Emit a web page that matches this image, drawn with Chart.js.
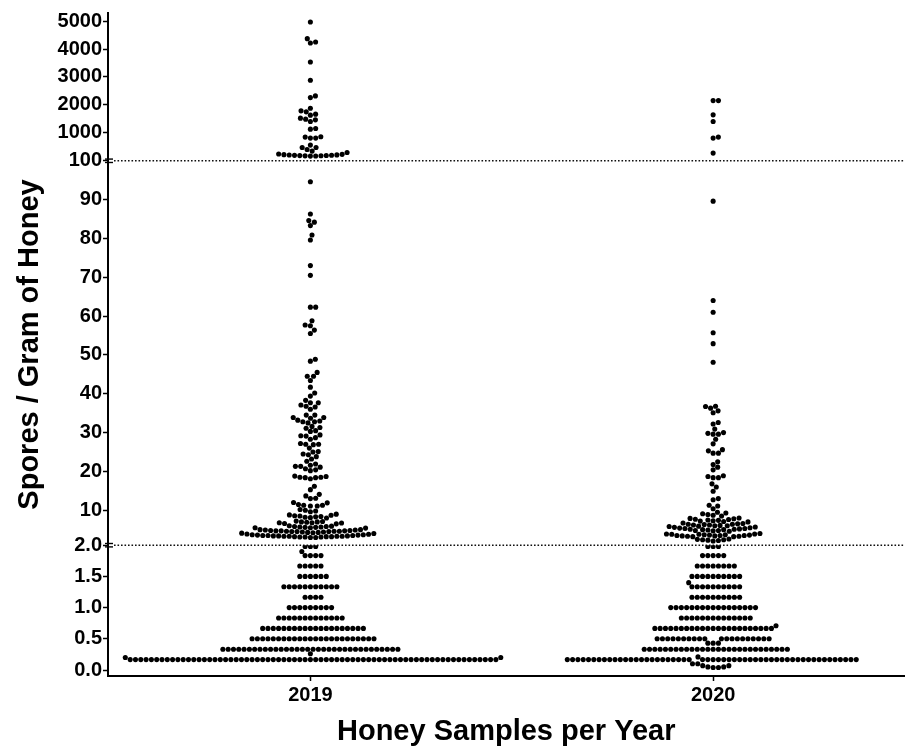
<!DOCTYPE html>
<html>
<head>
<meta charset="utf-8">
<script src="https://cdn.jsdelivr.net/npm/chart.js@4.4.1/dist/chart.umd.min.js"></script>
<style>
  html, body { margin: 0; padding: 0; background: #fff; }
</style>
</head>
<body>
<canvas id="sporeChart" width="907" height="749"></canvas>
<script>
const years = ['2019', '2020'];

// 0 - 2 band: values come in steps, so keep level + how many dots sit on it
const lowLevels      = [0.04, 0.05, 0.07, 0.1, 0.167, 0.2, 0.21, 0.26, 0.333, 0.43, 0.5, 0.667, 0.71, 0.833, 1.0, 1.167, 1.333, 1.4, 1.5, 1.667, 1.833, 1.9, 1.98];
const lowCounts2019  = [0,    0,    0,    0,   70,    2,   0,    1,    34,    0,    24,  20,    0,    13,    9,   4,     11,    0,   6,   5,     4,     1,   3];
const lowCounts2020  = [2,    2,    2,    2,   54,    0,   1,    0,    28,    3,    20,  23,    1,    14,    17,  10,    10,    1,   10,  8,     5,     0,   3];

// 2 - 100 band
const mid2019 = [
  3.0, 3.0, 3.1, 3.1, 3.1, 3.2, 3.2, 3.2, 3.3, 3.3, 3.3, 3.3, 3.4, 3.4, 3.4, 3.5, 3.5, 3.5, 3.6, 3.6, 3.7, 3.7, 3.8, 3.9, 4.0, 4.1, 4.2, 4.3, 4.3,
  4.4, 4.4, 4.5, 4.5, 4.5, 4.6, 4.6, 4.6, 4.7, 4.7, 4.7, 4.8, 4.8, 4.9, 4.9, 5.0, 5.0,
  5.4, 5.5, 5.5, 5.6, 5.6, 5.7, 5.7, 5.8, 5.8, 5.9, 6.0,
  6.5, 6.6, 6.7, 6.8, 6.8, 6.9, 7.0, 7.0, 7.1, 7.2,
  8.0, 8.1, 8.2, 8.3, 8.4, 8.5, 8.6, 8.7, 8.8, 9.0,
  9.6, 9.8, 10.0, 10.2,
  11.1, 11.1, 11.3, 11.3, 11.5, 11.9, 12.0,
  13.0, 13.1, 13.7, 14.1, 15.3, 16.2,
  18.1, 18.4, 18.4, 18.5, 18.5, 18.7, 18.8, 20.2, 20.4,
  20.7, 21.1, 21.3, 21.3, 21.6, 21.9, 22.6, 23.2, 23.8,
  24.3, 24.5, 25.0, 25.1, 26.0, 26.9, 27.0, 27.0, 27.2,
  28.3, 28.7, 29.1, 29.2, 29.4, 30.3, 30.5, 31.1, 31.3, 31.6,
  32.5, 32.8, 32.8, 33.0, 33.2, 33.7, 33.9, 33.9, 34.5, 34.5,
  36.0, 36.6, 36.8, 37.1, 37.7, 37.7, 38.3, 39.4, 40.2, 41.7, 43.4, 44.5, 44.5, 45.5, 48.4, 48.9,
  55.5, 56.4, 57.5, 57.7, 58.8, 62.3, 62.3, 70.5, 73.0, 79.6, 80.9, 83.3, 84.2, 84.6, 86.3, 94.6
];
const mid2020 = [
  2.1, 2.2, 2.3, 2.4, 2.4, 2.5, 2.6,
  3.2, 3.2, 3.3, 3.3, 3.4, 3.4, 3.5, 3.5, 3.5, 3.6, 3.6, 3.7, 3.7, 3.8, 3.8, 3.9, 3.9, 4.0,
  4.6, 4.7, 4.8, 4.8, 4.9, 5.0, 5.0, 5.1, 5.1, 5.2, 5.3, 5.3, 5.4, 5.5, 5.6,
  5.7, 5.8, 5.9, 6.0, 6.0, 6.1, 6.2, 6.2, 6.3, 6.4, 6.4, 6.5, 6.6, 6.7,
  7.0, 7.1, 7.2, 7.3, 7.4, 7.5, 7.6, 7.7, 7.8, 7.9, 8.0,
  8.5, 8.7, 8.9, 9.1, 9.3, 9.5,
  10.4, 11.1, 11.3, 12.7, 13.0, 14.9, 16.0, 16.8, 18.4, 18.4, 18.7, 18.9, 20.4, 21.1, 21.8, 22.5,
  24.7, 24.7, 25.3, 25.6, 27.1, 28.3, 29.6, 29.6, 29.8, 30.0, 30.9, 32.2, 32.6, 35.1, 35.6, 36.3, 36.7, 36.8,
  48.1, 52.9, 55.7, 61.0, 64.0, 89.6
];

// above 100
const high2019 = [168, 172, 176, 180, 185, 190, 195, 200, 205, 210, 220, 230, 240, 297, 347,
  404, 475, 475, 561, 811, 811, 847, 858, 1133, 1154, 1405, 1465, 1490, 1526,
  1633, 1669, 1751, 1787, 1883, 2262, 2323, 2884, 3538, 4217, 4253, 4371, 4968];
const high2020 = [275, 811, 847, 1405, 1644, 2155, 2155];

const lowTicks = [0, 0.5, 1, 1.5, 2];
const midTicks = [10, 20, 30, 40, 50, 60, 70, 80, 90, 100];
const highTicks = [1000, 2000, 3000, 4000, 5000];

const DOT = 5.3;
const FONT = '"Liberation Sans", Arial, sans-serif';
Chart.defaults.font.family = FONT;
Chart.defaults.color = '#000';

function expand(levels, counts) {
  const out = [];
  levels.forEach((v, i) => { for (let k = 0; k < counts[i]; k++) out.push(v); });
  return out;
}

const groups = [
  { cat: 1, low: expand(lowLevels, lowCounts2019), mid: mid2019, high: high2019 },
  { cat: 2, low: expand(lowLevels, lowCounts2020), mid: mid2020, high: high2020 }
];

// simple beeswarm: bottom-up, each dot goes to the free spot nearest the centre
function swarm(ys, d) {
  const order = ys.map((y, i) => i).sort((a, b) => ys[b] - ys[a]);
  const placed = [];
  const xs = new Array(ys.length).fill(0);
  for (const i of order) {
    const y = ys[i];
    const near = placed.filter(p => Math.abs(p.y - y) < d);
    const cands = [0];
    near.forEach(p => {
      const dx = Math.sqrt(d * d - (p.y - y) * (p.y - y));
      cands.push(p.x + dx, p.x - dx);
    });
    cands.sort((a, b) => Math.abs(a) - Math.abs(b));
    for (const c of cands) {
      if (near.every(p => (p.x - c) ** 2 + (p.y - y) ** 2 >= d * d - 1e-4)) {
        xs[i] = c;
        placed.push({ x: c, y: y });
        break;
      }
    }
  }
  return xs;
}

const tickFont = { size: 20, weight: 'bold', family: FONT };

function bandAxis(min, max, weight, ticks, fmt) {
  return {
    type: 'linear',
    position: 'left',
    stack: 'spores',
    stackWeight: weight,
    min: min,
    max: max,
    afterBuildTicks: s => { s.ticks = ticks.map(v => ({ value: v })); },
    afterFit: s => { s.width = 58; },
    ticks: { callback: fmt, color: '#000', font: tickFont, padding: 1, autoSkip: false },
    grid: { drawOnChartArea: false, tickLength: 5, tickWidth: 1.5, tickColor: '#000' },
    border: { color: '#000', width: 2 }
  };
}

const breakLines = {
  id: 'breakLines',
  beforeDatasetsDraw(chart) {
    const { ctx, chartArea } = chart;
    ctx.save();
    ctx.strokeStyle = '#111';
    ctx.lineWidth = 1.6;
    ctx.setLineDash([1.6, 1.9]);
    [chart.scales.yLow.top, chart.scales.yMid.top].forEach(y => {
      ctx.beginPath();
      ctx.moveTo(chartArea.left + 6, y);
      ctx.lineTo(chartArea.right, y);
      ctx.stroke();
    });
    ctx.restore();
  },
  afterDraw(chart) {
    const { ctx, chartArea } = chart;
    ctx.save();
    ctx.strokeStyle = '#000';
    ctx.lineWidth = 1.4;
    [chart.scales.yLow.top, chart.scales.yMid.top].forEach(y => {
      [-1.7, 1.7].forEach(d => {
        ctx.beginPath();
        ctx.moveTo(chartArea.left - 3, y + d);
        ctx.lineTo(chartArea.left + 5, y + d);
        ctx.stroke();
      });
    });
    ctx.restore();
  }
};

const dotStyle = { pointRadius: 2.55, pointHoverRadius: 2.55, pointBackgroundColor: '#000', pointBorderWidth: 0, showLine: false };

const chart = new Chart(document.getElementById('sporeChart'), {
  type: 'scatter',
  data: {
    datasets: [
      Object.assign({ label: '0-2', yAxisID: 'yLow', data: groups.flatMap(g => g.low.map(v => ({ x: g.cat, y: v }))) }, dotStyle),
      Object.assign({ label: '2-100', yAxisID: 'yMid', data: groups.flatMap(g => g.mid.map(v => ({ x: g.cat, y: v }))) }, dotStyle),
      Object.assign({ label: '>100', yAxisID: 'yHigh', data: groups.flatMap(g => g.high.map(v => ({ x: g.cat, y: v }))) }, dotStyle)
    ]
  },
  options: {
    responsive: false,
    animation: false,
    layout: { padding: { top: 12, right: 0, bottom: 0, left: 0 } },
    plugins: { legend: { display: false }, tooltip: { enabled: false } },
    scales: {
      x: {
        type: 'linear',
        min: 0.4975,
        max: 2.475,
        afterBuildTicks: s => { s.ticks = years.map((y, i) => ({ value: i + 1 })); },
        afterFit: s => { s.height = 73; },
        ticks: { callback: (v, i) => years[i], color: '#000', font: tickFont, padding: 2 },
        grid: { drawOnChartArea: false, tickLength: 5, tickWidth: 1.5, tickColor: '#000' },
        border: { color: '#000', width: 2 },
        title: {
          display: true,
          text: 'Honey Samples per Year',
          color: '#000',
          font: { size: 29, weight: 'bold', family: FONT },
          padding: { top: 0, bottom: 0 }
        }
      },
      yLow: bandAxis(-0.096, 2, 131, lowTicks, v => v.toFixed(1)),
      yMid: bandAxis(1.0, 100, 385, midTicks, v => String(v)),
      yHigh: bandAxis(0, 5290, 148, highTicks, v => String(v)),
      yTitle: {
        type: 'linear',
        position: 'left',
        weight: 1,
        min: 0,
        max: 1,
        afterFit: s => { s.width = 50; },
        ticks: { display: false },
        grid: { display: false },
        border: { display: false },
        title: {
          display: true,
          text: 'Spores / Gram of Honey',
          color: '#000',
          font: { size: 29, weight: 'bold', family: FONT },
          padding: { top: 13, bottom: 0 }
        }
      }
    }
  },
  plugins: [breakLines]
});

function placeSwarm() {
  const xs = chart.scales.x;
  const segs = [['low', 'yLow', 0], ['mid', 'yMid', 1], ['high', 'yHigh', 2]];
  const newData = [[], [], []];
  groups.forEach(g => {
    const pts = [];
    segs.forEach(([key, axis, di]) => {
      g[key].forEach(v => pts.push({ v: v, di: di, py: chart.scales[axis].getPixelForValue(v) }));
    });
    const offs = swarm(pts.map(p => p.py), DOT);
    const cx = xs.getPixelForValue(g.cat);
    pts.forEach((p, k) => newData[p.di].push({ x: xs.getValueForPixel(cx + offs[k]), y: p.v }));
  });
  chart.data.datasets.forEach((ds, i) => { ds.data = newData[i]; });
  chart.update();
}
placeSwarm();
</script>
</body>
</html>
